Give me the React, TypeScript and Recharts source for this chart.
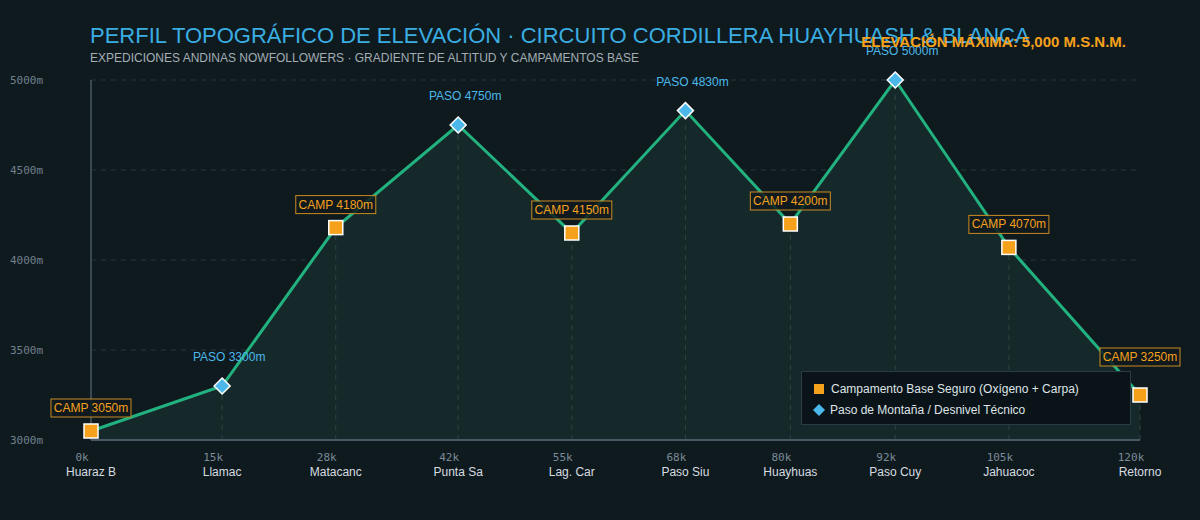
import React from 'react';
import {
  ComposedChart,
  Area,
  Scatter,
  XAxis,
  YAxis,
  CartesianGrid,
  ReferenceLine,
  Legend,
} from 'recharts';

// --- Route data ---
const KM = [0, 15, 28, 42, 55, 68, 80, 92, 105, 120];
const NAMES = ['Huaraz B', 'Llamac', 'Matacanc', 'Punta Sa', 'Lag. Car', 'Paso Siu', 'Huayhuas', 'Paso Cuy', 'Jahuacoc', 'Retorno'];
const ELEV = [3050, 3300, 4180, 4750, 4150, 4830, 4200, 5000, 4070, 3250];
const KIND = ['camp', 'pass', 'camp', 'pass', 'camp', 'pass', 'camp', 'pass', 'camp', 'camp'];
const Y_TICKS = [3000, 3500, 4000, 4500, 5000];

const BG = '#0f1a1f';
const GREEN = '#22b27f';
const ORANGE = '#f5a11c';
const BLUE = '#4cb8ea';
const SANS = '"Liberation Sans", Arial, sans-serif';
const MONO = '"DejaVu Sans Mono", monospace';

const profile = KM.map((km, i) => ({ km, elev: ELEV[i], name: NAMES[i], kind: KIND[i] }));
const camps = profile.filter((p) => p.kind === 'camp');
const passes = profile.filter((p) => p.kind === 'pass');

const XTick = (props: any) => {
  const { x, y, payload } = props;
  const idx = KM.indexOf(payload.value);
  return (
    <g>
      <text x={x - 9} y={y + 13} textAnchor="middle" fill="#7b8b97" fontSize={11} fontFamily={MONO}>
        {payload.value}k
      </text>
      <text x={x} y={y + 28} textAnchor="middle" fill="#d6dce0" fontSize={12} fontFamily={SANS}>
        {NAMES[idx]}
      </text>
    </g>
  );
};

const YTick = (props: any) => {
  const { y, payload } = props;
  return (
    <text x={10} y={y + 4} textAnchor="start" fill="#6f808c" fontSize={11} fontFamily={MONO}>
      {payload.value}m
    </text>
  );
};

const CampShape = (props: any) => {
  const { cx, cy, payload, index } = props;
  const last = index === camps.length - 1;
  const ly = cy - (last ? 38 : 23);
  const label = `CAMP ${payload.elev}m`;
  return (
    <g>
      <rect x={cx - 7} y={cy - 7} width={14} height={14} fill={ORANGE} stroke="#ffffff" strokeWidth={1.5} />
      <rect x={cx - 40} y={ly - 9} width={80} height={18} fill={BG} fillOpacity={0.85} stroke="#c98a22" strokeWidth={1} />
      <text x={cx} y={ly + 4} textAnchor="middle" fill={ORANGE} fontSize={12} fontFamily={SANS}>
        {label}
      </text>
    </g>
  );
};

const PassShape = (props: any) => {
  const { cx, cy, payload } = props;
  return (
    <g>
      <path d={`M${cx},${cy - 8} L${cx + 8},${cy} L${cx},${cy + 8} L${cx - 8},${cy} Z`} fill={BLUE} stroke="#ffffff" strokeWidth={1.5} />
      <text x={cx + 7} y={cy - 25} textAnchor="middle" fill={BLUE} fontSize={12} fontFamily={SANS}>
        PASO {payload.elev}m
      </text>
    </g>
  );
};

const LegendBox = () => (
  <div
    style={{
      width: 330,
      height: 54,
      boxSizing: 'border-box',
      background: '#0a1317',
      border: '1px solid #2b3a44',
      padding: '6px 0 0 12px',
      fontFamily: SANS,
      fontSize: 12,
      color: '#dfe4e8',
    }}
  >
    <div style={{ display: 'flex', alignItems: 'center', height: 21 }}>
      <span style={{ width: 10, height: 10, background: ORANGE, marginRight: 7 }} />
      Campamento Base Seguro (Oxígeno + Carpa)
    </div>
    <div style={{ display: 'flex', alignItems: 'center', height: 21 }}>
      <svg width={12} height={12} style={{ marginRight: 5, marginLeft: -1 }}>
        <path d="M6,0 L12,6 L6,12 L0,6 Z" fill={BLUE} />
      </svg>
      Paso de Montaña / Desnivel Técnico
    </div>
  </div>
);

export default function App() {
  return (
    <div style={{ position: 'absolute', left: 0, top: 0, width: 1200, height: 520, background: BG, overflow: 'hidden' }}>
      <ComposedChart width={1200} height={520} data={profile} margin={{ top: 80, right: 60, bottom: 0, left: 0 }}>
        <CartesianGrid stroke="#26353d" strokeDasharray="5 5" vertical={false} />
        <XAxis
          dataKey="km"
          type="number"
          domain={[0, 120]}
          ticks={KM}
          height={80}
          tick={<XTick />}
          tickLine={false}
          axisLine={{ stroke: '#4a5864', strokeWidth: 2 }}
        />
        <YAxis
          type="number"
          domain={[3000, 5000]}
          ticks={Y_TICKS}
          width={91}
          tick={<YTick />}
          tickLine={false}
          axisLine={{ stroke: '#4a5864', strokeWidth: 1.5 }}
        />
        <Area
          type="linear"
          dataKey="elev"
          stroke={GREEN}
          strokeWidth={3}
          fill="#15292a"
          fillOpacity={1}
          dot={false}
          activeDot={false}
          isAnimationActive={false}
        />
        {profile.slice(1).map((p) => (
          <ReferenceLine
            key={p.km}
            segment={[{ x: p.km, y: 3000 }, { x: p.km, y: p.elev }]}
            stroke="#2c4640"
            strokeDasharray="5 5"
            strokeWidth={1}
          />
        ))}
        <Scatter data={passes} dataKey="elev" shape={<PassShape />} isAnimationActive={false} />
        <Scatter data={camps} dataKey="elev" shape={<CampShape />} isAnimationActive={false} />
        <Legend
          layout="vertical"
          align="center"
          verticalAlign="middle"
          content={<LegendBox />}
          wrapperStyle={{ left: 801, top: 371, width: 330 }}
        />
      </ComposedChart>
      <div style={{ position: 'absolute', left: 90, top: 25, fontFamily: SANS, fontSize: 22, lineHeight: 1, color: '#3aaee2', whiteSpace: 'nowrap' }}>
        PERFIL TOPOGRÁFICO DE ELEVACIÓN · CIRCUITO CORDILLERA HUAYHUASH &amp; BLANCA
      </div>
      <div style={{ position: 'absolute', left: 90, top: 52, fontFamily: SANS, fontSize: 12, lineHeight: 1, color: '#a3adb4', whiteSpace: 'nowrap' }}>
        EXPEDICIONES ANDINAS NOWFOLLOWERS · GRADIENTE DE ALTITUD Y CAMPAMENTOS BASE
      </div>
      <div style={{ position: 'absolute', right: 74, top: 34, fontFamily: SANS, fontSize: 15, fontWeight: 700, lineHeight: 1, color: ORANGE, whiteSpace: 'nowrap' }}>
        ELEVACIÓN MÁXIMA: 5,000 M.S.N.M.
      </div>
    </div>
  );
}
